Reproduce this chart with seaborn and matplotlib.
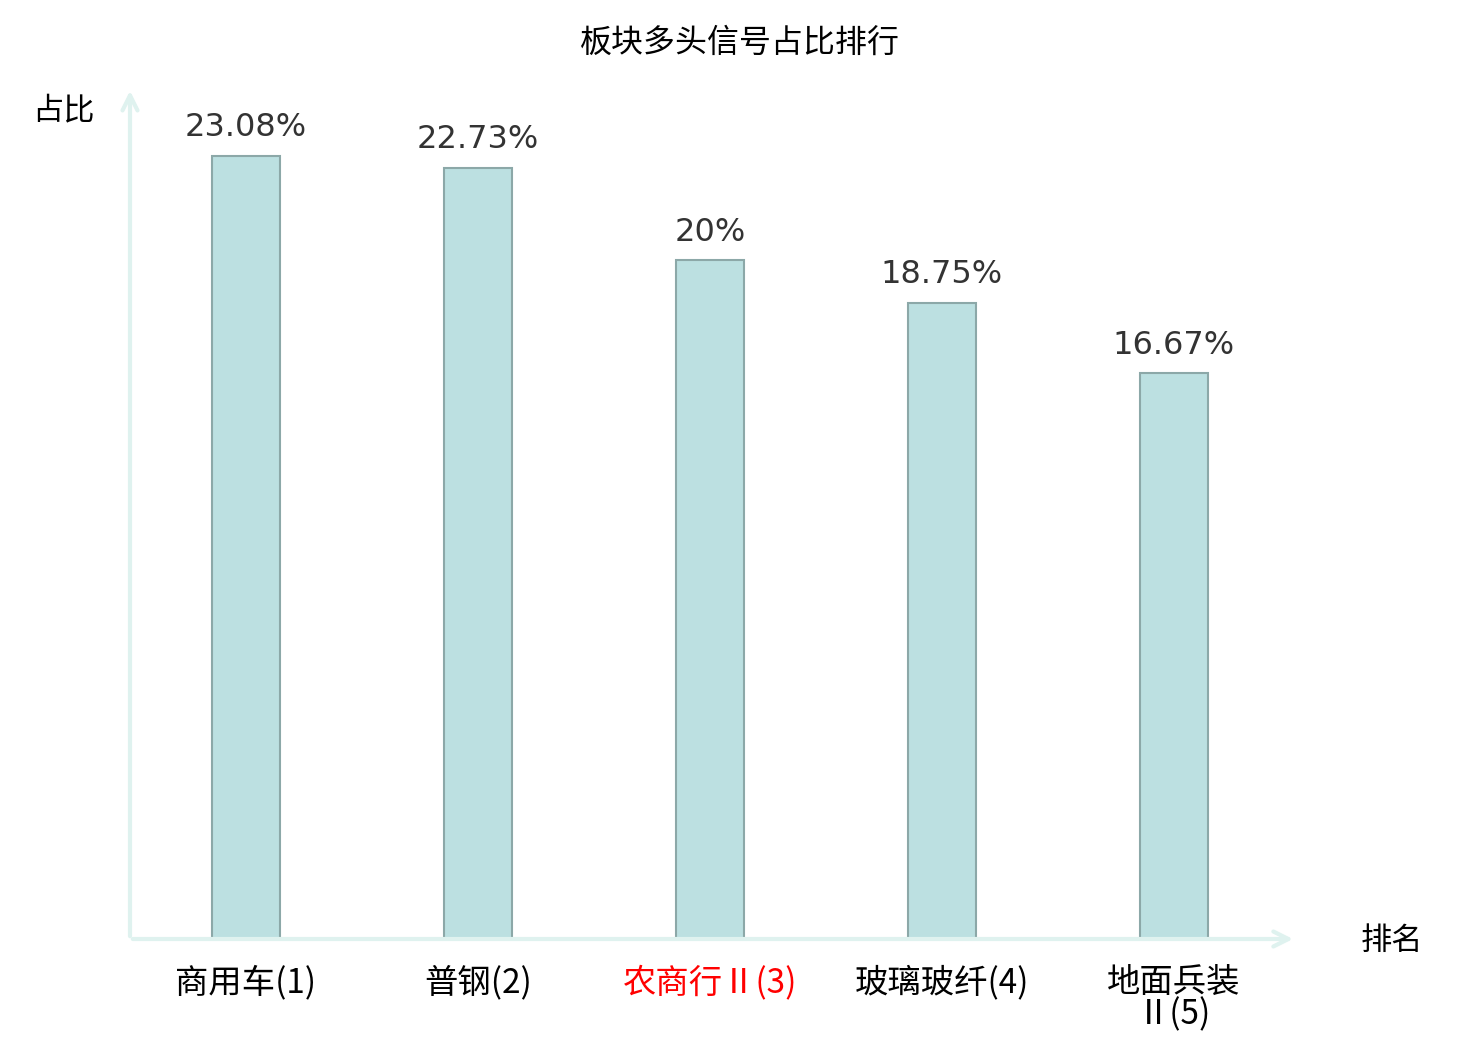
import matplotlib
matplotlib.use("Agg")
import matplotlib.pyplot as plt
import seaborn as sns
import pandas as pd

categories = ["商用车(1)", "普钢(2)", "农商行Ⅱ(3)", "玻璃玻纤(4)", "地面兵装\nⅡ(5)"]
values = [23.08, 22.73, 20.0, 18.75, 16.67]
value_labels = ["23.08%", "22.73%", "20%", "18.75%", "16.67%"]
label_colors = ["#000000", "#000000", "#ff0000", "#000000", "#000000"]

sns.set_theme(style="white")
plt.rcParams["font.family"] = ["Noto Sans CJK SC", "DejaVu Sans"]

df = pd.DataFrame({"cat": categories, "val": values})

fig = plt.figure(figsize=(14.8, 10.4), dpi=100)
ax = fig.add_axes([130 / 1480, 101 / 1040, 1160 / 1480, 851 / 1040])

sns.barplot(data=df, x="cat", y="val", ax=ax, color="#bce0e1", width=68 / 232,
            edgecolor="#8ca8a8", linewidth=1.5, saturation=1)
ax.set_xlim(-0.5, 4.5)
ax.set_ylim(0, 25.08)
for s in ax.spines.values():
    s.set_visible(False)
ax.set_yticks([])
ax.set_xlabel("")
ax.set_ylabel("")
ax.tick_params(axis="x", length=0, pad=19)
ax.set_xticks(range(len(categories)))
ax.set_xticklabels(categories, fontsize=24, linespacing=0.9, va="top")
for t, c in zip(ax.get_xticklabels(), label_colors):
    t.set_color(c)

for i, (v, lab) in enumerate(zip(values, value_labels)):
    ax.annotate(lab, (i, v), xytext=(0, 9), textcoords="offset points",
                ha="center", va="bottom", fontsize=23, color="#333333",
                family="DejaVu Sans")

axis_col = "#dff2ef"
ax.annotate("", xy=(1.005, 0), xytext=(0, 0), xycoords="axes fraction",
            arrowprops=dict(arrowstyle="->,head_length=0.9,head_width=0.45",
                            color=axis_col, lw=3), annotation_clip=False)
ax.annotate("", xy=(0, 1.0), xytext=(0, 0), xycoords="axes fraction",
            arrowprops=dict(arrowstyle="->,head_length=0.9,head_width=0.45",
                            color=axis_col, lw=3), annotation_clip=False)

fig.text(63 / 1480, 1 - 110 / 1040, "占比", fontsize=22.5, ha="center", va="center", color="#000000")
fig.text(1392 / 1480, 1 - 941 / 1040, "排名", fontsize=22.5, ha="center", va="center", color="#000000")
fig.text(740 / 1480, 1 - 43 / 1040, "板块多头信号占比排行", fontsize=23, ha="center", va="center", color="#000000")

fig.savefig("out.png", dpi=100)
